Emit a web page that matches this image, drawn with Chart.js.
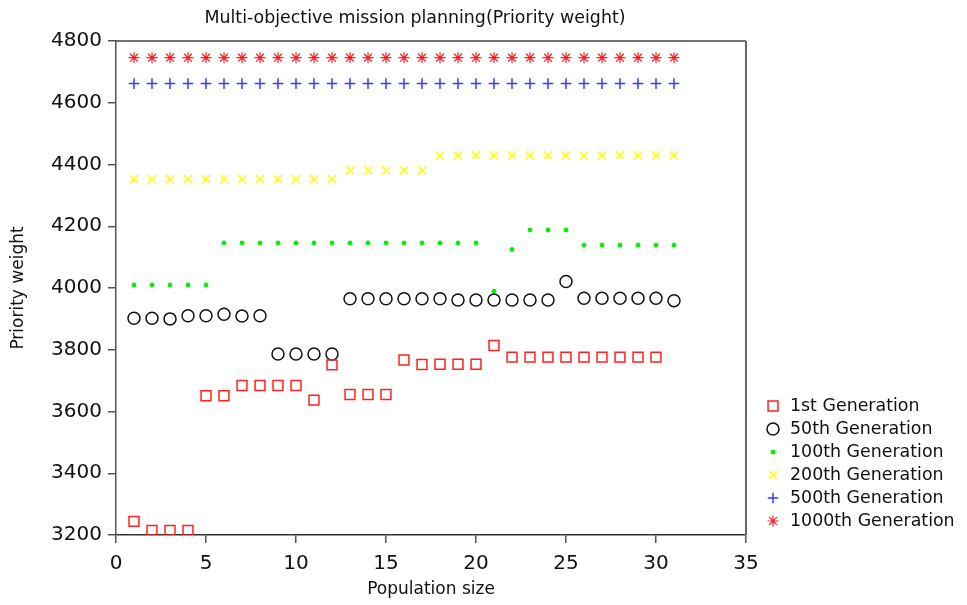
<!DOCTYPE html>
<html>
<head>
<meta charset="utf-8">
<script src="https://cdn.jsdelivr.net/npm/chart.js@4.4.0/dist/chart.umd.min.js"></script>
<style>
  html, body { margin: 0; padding: 0; background: #fff; }
  #wrap { width: 967px; height: 605px; }
</style>
</head>
<body>
<div id="wrap"><canvas id="chart"></canvas></div>
<script>
// Data
const populationSize = [1, 2, 3, 4, 5, 6, 7, 8, 9, 10, 11, 12, 13, 14, 15, 16,
    17, 18, 19, 20, 21, 22, 23, 24, 25, 26, 27, 28, 29, 30, 31];

const gen1 = [3244, 3215, 3215, 3215, 3651, 3651, 3684, 3684, 3684, 3684, 3637,
    3751, 3655, 3655, 3655, 3767, 3752, 3753, 3753, 3753, 3814, 3776, 3776, 3776,
    3776, 3776, 3776, 3776, 3776, 3776];
const gen50 = [3902, 3902, 3900, 3910, 3910, 3915, 3909, 3910, 3786, 3786, 3786,
    3786, 3965, 3965, 3965, 3965, 3965, 3965, 3961, 3961, 3961, 3961, 3961, 3961,
    4021, 3967, 3967, 3967, 3967, 3967, 3959];
const gen100 = [4010, 4010, 4010, 4010, 4010, 4146, 4146, 4146, 4146, 4146, 4146,
    4146, 4146, 4146, 4146, 4146, 4146, 4146, 4146, 4146, 3990, 4125, 4188, 4188,
    4188, 4139, 4139, 4139, 4139, 4139, 4139];
const gen200 = [4353, 4353, 4353, 4353, 4353, 4353, 4353, 4353, 4353, 4353, 4353,
    4353, 4381, 4381, 4381, 4381, 4381, 4430, 4430, 4430, 4430, 4430, 4430, 4430,
    4430, 4430, 4430, 4430, 4430, 4430, 4430];
const gen500 = [4662, 4662, 4662, 4662, 4662, 4662, 4662, 4662, 4662, 4662, 4662,
    4662, 4662, 4662, 4662, 4662, 4662, 4662, 4662, 4662, 4662, 4662, 4662, 4662,
    4662, 4662, 4662, 4662, 4662, 4662, 4662];
const gen1000 = [4746, 4746, 4746, 4746, 4746, 4746, 4746, 4746, 4746, 4746, 4746,
    4746, 4746, 4746, 4746, 4746, 4746, 4746, 4746, 4746, 4746, 4746, 4746, 4746,
    4746, 4746, 4746, 4746, 4746, 4746, 4746];

const xTicks = [0, 5, 10, 15, 20, 25, 30, 35];
const yTicks = [3200, 3400, 3600, 3800, 4000, 4200, 4400, 4600, 4800];

const FONT = "'DejaVu Sans', sans-serif";

function toPoints(values) {
    return values.map((v, i) => ({ x: populationSize[i], y: v }));
}

const series = [
    { label: "1st Generation", data: gen1, style: "rect", radius: 7, color: "#ff2020", fill: false, width: 1.5 },
    { label: "50th Generation", data: gen50, style: "circle", radius: 6, color: "#111111", fill: false, width: 1.5 },
    { label: "100th Generation", data: gen100, style: "circle", radius: 2, color: "#00ee00", fill: true, width: 1 },
    { label: "200th Generation", data: gen200, style: "crossRot", radius: 5.7, color: "#ffff00", fill: false, width: 1.5 },
    { label: "500th Generation", data: gen500, style: "cross", radius: 5.3, color: "#3a3aff", fill: false, width: 1.5 },
    { label: "1000th Generation", data: gen1000, style: "star", radius: 5.5, color: "#ff1a1a", fill: false, width: 1.2 }
];

// Title, frame and legend
const extras = {
    id: "extras",
    afterDraw(chart) {
        const ctx = chart.ctx;
        const a = chart.chartArea;
        ctx.save();
        // top and right frame
        ctx.strokeStyle = "#444";
        ctx.lineWidth = 1.5;
        ctx.beginPath();
        ctx.moveTo(a.left, a.top);
        ctx.lineTo(a.right, a.top);
        ctx.stroke();
        ctx.strokeStyle = "#666";
        ctx.lineWidth = 2;
        ctx.beginPath();
        ctx.moveTo(a.right, a.top);
        ctx.lineTo(a.right, a.bottom);
        ctx.stroke();

        // title
        ctx.fillStyle = "#111";
        ctx.font = "17.4px " + FONT;
        ctx.textAlign = "center";
        ctx.textBaseline = "middle";
        ctx.fillText("Multi-objective mission planning(Priority weight)", 415, 18);

        // legend
        ctx.font = "17.4px " + FONT;
        ctx.textAlign = "left";
        series.forEach((s, i) => {
            const y = 406 + i * 23;
            ctx.strokeStyle = s.color;
            ctx.fillStyle = s.fill ? s.color : "rgba(0,0,0,0)";
            ctx.lineWidth = s.width;
            Chart.helpers.drawPoint(ctx, {
                pointStyle: s.style, radius: s.radius, rotation: 0, borderWidth: s.width
            }, 773, y);
            ctx.fillStyle = "#111";
            ctx.fillText(s.label, 790, y);
        });
        ctx.restore();
    }
};

const ctx = document.getElementById("chart").getContext("2d");
new Chart(ctx, {
    type: "scatter",
    data: {
        datasets: series.map(s => ({
            label: s.label,
            data: toPoints(s.data),
            pointStyle: s.style,
            pointRadius: s.radius,
            pointHoverRadius: s.radius,
            pointBorderColor: s.color,
            pointBackgroundColor: s.fill ? s.color : "rgba(0,0,0,0)",
            pointBorderWidth: s.width
        }))
    },
    options: {
        responsive: true,
        maintainAspectRatio: false,
        animation: false,
        layout: { padding: { top: 41, right: 221, left: 0, bottom: 0 } },
        plugins: {
            legend: { display: false },
            tooltip: { enabled: false }
        },
        scales: {
            x: {
                type: "linear",
                min: 0,
                max: 35,
                afterFit: scale => { scale.height = 70; },
                afterBuildTicks: scale => { scale.ticks = xTicks.map(v => ({ value: v })); },
                ticks: {
                    color: "#111", font: { family: FONT, size: 20 }, padding: 9,
                    callback: v => String(v)
                },
                grid: { drawOnChartArea: false, tickLength: 8, color: "#555", lineWidth: 1.5 },
                border: { color: "#333", width: 1.5 },
                title: {
                    display: true, text: "Population size", color: "#111",
                    font: { family: FONT, size: 17 }, padding: { top: 0, bottom: 5 }
                }
            },
            y: {
                min: 3200,
                max: 4800,
                afterFit: scale => { scale.width = 116; },
                afterBuildTicks: scale => { scale.ticks = yTicks.map(v => ({ value: v })); },
                ticks: {
                    color: "#111", font: { family: FONT, size: 20 }, padding: 6,
                    callback: v => String(v)
                },
                grid: { drawOnChartArea: false, tickLength: 8, color: "#555", lineWidth: 1.5 },
                border: { color: "#555", width: 1.5 },
                title: {
                    display: true, text: "Priority weight", color: "#111",
                    font: { family: FONT, size: 17 }, padding: { top: 8, bottom: 0 }
                }
            }
        }
    },
    plugins: [extras]
});
</script>
</body>
</html>
